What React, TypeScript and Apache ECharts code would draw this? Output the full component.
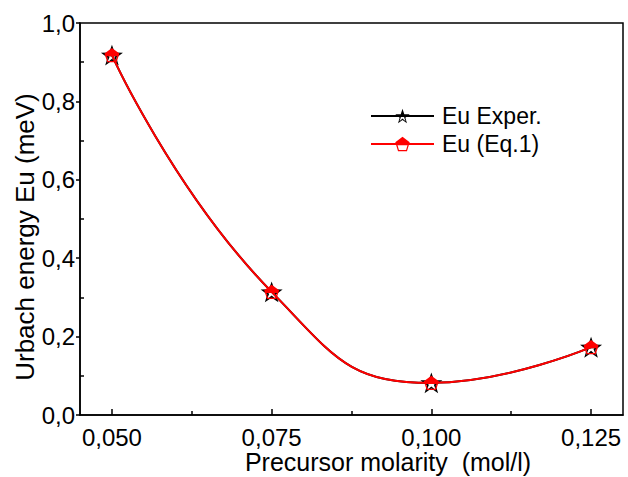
import React, { useEffect, useRef } from "react";
import * as echarts from "echarts";

const molarity = [0.05, 0.075, 0.1, 0.125];
const euExper = [0.918, 0.314, 0.082, 0.173];
const euEq1 = [0.918, 0.314, 0.082, 0.173];
const xTickValues = [0.05, 0.075, 0.1, 0.125];
const xMinorTickValues = [0.0625, 0.0875, 0.1125];
const seriesNames = ["Eu Exper.", "Eu (Eq.1)"];
const xAxisTitle = "Precursor molarity  (mol/l)";
const yAxisTitle = "Urbach energy Eu (meV)";

const STAR =
  "path://M50 0 L61.8 33.8 L97.6 34.5 L69 56.2 L79.4 90.5 L50 70 L20.6 90.5 L31 56.2 L2.4 34.5 L38.2 33.8 Z " +
  "M50 16 L43.5 41.1 L17.7 39.5 L39.5 53.4 L30 77.5 L50 61 L70 77.5 L60.5 53.4 L82.3 39.5 L56.5 41.1 Z " +
  "M50 0 L61.8 33.8 L97.6 34.5 L77.2 50 L22.8 50 L2.4 34.5 L38.2 33.8 Z";
const PENTAGON =
  "path://M50 0 L100 36 L81 95 L19 95 L0 36 Z " +
  "M50 10.4 L10 39.2 L25.2 86.4 L74.8 86.4 L90 39.2 Z " +
  "M50 0 L100 36 L93.9 55 L6.1 55 L0 36 Z";

const FONT = "'Liberation Sans', Arial, sans-serif";

export default function App() {
  const ref = useRef<HTMLDivElement>(null);
  useEffect(() => {
    if (!ref.current) return;
    const chart = echarts.init(ref.current, undefined, { renderer: "svg" });
    const axisLineStyle = { color: "#000", width: 1.5 };
    chart.setOption({
      animation: false,
      backgroundColor: "#fff",
      textStyle: { fontFamily: FONT },
      grid: {
        left: 80,
        right: 5,
        top: 23,
        bottom: 62,
        show: true,
        borderColor: "#000",
        borderWidth: 1.5,
        backgroundColor: "transparent",
      },
      legend: {
        orient: "vertical",
        left: 365,
        top: 99,
        itemWidth: 63,
        itemHeight: 18,
        itemGap: 4,
        data: seriesNames,
        textStyle: { fontFamily: FONT, fontSize: 23, color: "#000", lineHeight: 24, padding: [0, 0, 0, 3] },
      },
      xAxis: [
        {
          type: "value",
          min: 0.045,
          max: 0.13,
          position: "bottom",
          axisLine: { show: true, lineStyle: axisLineStyle },
          axisTick: { show: true, inside: true, length: 6, customValues: xTickValues, lineStyle: axisLineStyle },
          axisLabel: {
            show: true,
            customValues: xTickValues,
            margin: 10,
            fontSize: 24,
            color: "#000",
            fontFamily: FONT,
            formatter: (v: number) => v.toFixed(3).replace(".", ","),
          },
          splitLine: { show: false },
        },
        {
          type: "value",
          min: 0.045,
          max: 0.13,
          position: "bottom",
          axisLine: { show: false },
          axisTick: { show: true, inside: true, length: 4, customValues: xMinorTickValues, lineStyle: axisLineStyle },
          axisLabel: { show: false },
          splitLine: { show: false },
        },
      ],
      yAxis: [
        {
          type: "value",
          min: 0,
          max: 1,
          interval: 0.2,
          position: "left",
          axisLine: { show: true, lineStyle: axisLineStyle },
          axisTick: { show: true, inside: false, length: 4, lineStyle: axisLineStyle },
          axisLabel: {
            margin: 5,
            fontSize: 24,
            color: "#000",
            fontFamily: FONT,
            formatter: (v: number) => v.toFixed(1).replace(".", ","),
          },
          splitLine: { show: false },
        },
        {
          type: "value",
          min: 0,
          max: 1,
          interval: 0.2,
          position: "left",
          axisLine: { show: false },
          axisTick: { show: false, inside: true },
          minorTick: { show: true, splitNumber: 2, length: 4, lineStyle: axisLineStyle },
          axisLabel: { show: false },
          splitLine: { show: false },
        },
      ],
      graphic: [
        {
          type: "text",
          x: 25,
          y: 237,
          rotation: Math.PI / 2,
          style: {
            text: yAxisTitle,
            fontSize: 26,
            fontFamily: FONT,
            fill: "#000",
            align: "center",
            verticalAlign: "middle",
          },
        },
        {
          type: "text",
          x: 388,
          y: 462,
          style: {
            text: xAxisTitle,
            fontSize: 25,
            fontFamily: FONT,
            fill: "#000",
            align: "center",
            verticalAlign: "middle",
          },
        },
      ],
      series: [
        {
          name: seriesNames[0],
          type: "line",
          smooth: 0.5,
          data: molarity.map((x, i) => [x, euExper[i]]),
          symbol: STAR,
          symbolSize: 22,
          symbolKeepAspect: true,
          itemStyle: { color: "#000" },
          lineStyle: { color: "#000", width: 2 },
          z: 2,
        },
        {
          name: seriesNames[1],
          type: "line",
          smooth: 0.5,
          data: molarity.map((x, i) => [x, euEq1[i]]),
          symbol: PENTAGON,
          symbolSize: 15,
          symbolKeepAspect: true,
          itemStyle: { color: "#ff0000" },
          lineStyle: { color: "#ff0000", width: 2 },
          z: 3,
        },
      ],
    });
    return () => chart.dispose();
  }, []);
  return (
    <div
      ref={ref}
      style={{ position: "fixed", left: 0, top: 0, width: 628, height: 477, background: "#fff" }}
    />
  );
}
